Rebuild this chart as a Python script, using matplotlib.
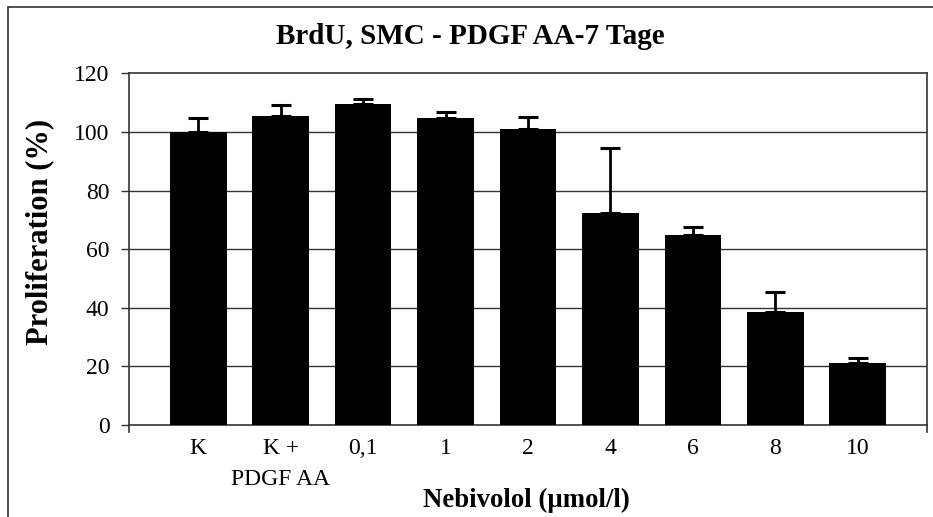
import matplotlib
matplotlib.use("Agg")
import matplotlib.pyplot as plt
from matplotlib.patches import Rectangle
from matplotlib.lines import Line2D

plt.rcParams['font.family'] = ['Liberation Serif', 'DejaVu Serif']

categories = ["K", "K +\nPDGF AA", "0,1", "1", "2", "4", "6", "8", "10"]
proliferation = [100.0, 105.6, 109.4, 104.7, 101.0, 72.3, 64.7, 38.4, 21.2]
error_upper = [4.6, 3.6, 1.7, 2.1, 4.0, 22.2, 2.7, 7.0, 1.7]
y_ticks = [0, 20, 40, 60, 80, 100, 120]

W, H = 933, 517
fig = plt.figure(figsize=(W / 100, H / 100), dpi=100)

# outer chart frame (runs past the right and bottom edges)
fig.add_artist(Rectangle((8 / W, -0.1), 1.2, 1.1 - 7 / H, transform=fig.transFigure,
                         fill=False, edgecolor='#333333', linewidth=1.2))

ax = fig.add_axes([129 / W, 1 - 425 / H, (927 - 129) / W, (425 - 73.3) / H])
x = list(range(len(categories)))
ax.bar(x, proliferation, width=0.687, color='black', zorder=3,
       yerr=[[0] * len(error_upper), error_upper],
       error_kw=dict(ecolor='black', elinewidth=2, capsize=7.5, capthick=2.2, zorder=4))

ax.set_xlim(-0.84, len(categories) - 1 + 0.84)
ax.set_ylim(0, 120)
ax.set_yticks(y_ticks)
ax.set_yticklabels([str(v) for v in y_ticks], fontsize=17)
ax.set_xticks(x)
ax.set_xticklabels(categories, fontsize=17, linespacing=1.6, va='top')
ax.tick_params(axis='x', length=0, pad=9.5)
ax.tick_params(axis='y', direction='out', length=6, width=1, color='#333333', pad=8)

for v in y_ticks[1:-1]:
    ax.axhline(v, color='#333333', linewidth=1, zorder=1)
for s in ax.spines.values():
    s.set_color('#333333')
    s.set_linewidth(1.2)

# short extensions of the vertical axis lines below zero
for xf in (129 / W, 927 / W):
    fig.add_artist(Line2D([xf, xf], [1 - 425 / H, 1 - 432 / H], transform=fig.transFigure,
                          color='#333333', linewidth=1.2))

fig.text(470 / W, 1 - 44 / H, "BrdU, SMC - PDGF AA-7 Tage", ha='center', va='baseline',
         fontsize=21, fontweight='bold')
fig.text(526 / W, 1 - 507 / H, "Nebivolol (µmol/l)", ha='center', va='baseline',
         fontsize=19.3, fontweight='bold')
fig.text(40 / W, 1 - 232 / H, "Proliferation (%)", ha='center', va='center',
         rotation=90, fontsize=22, fontweight='bold')

fig.savefig("out.png", dpi=100)
